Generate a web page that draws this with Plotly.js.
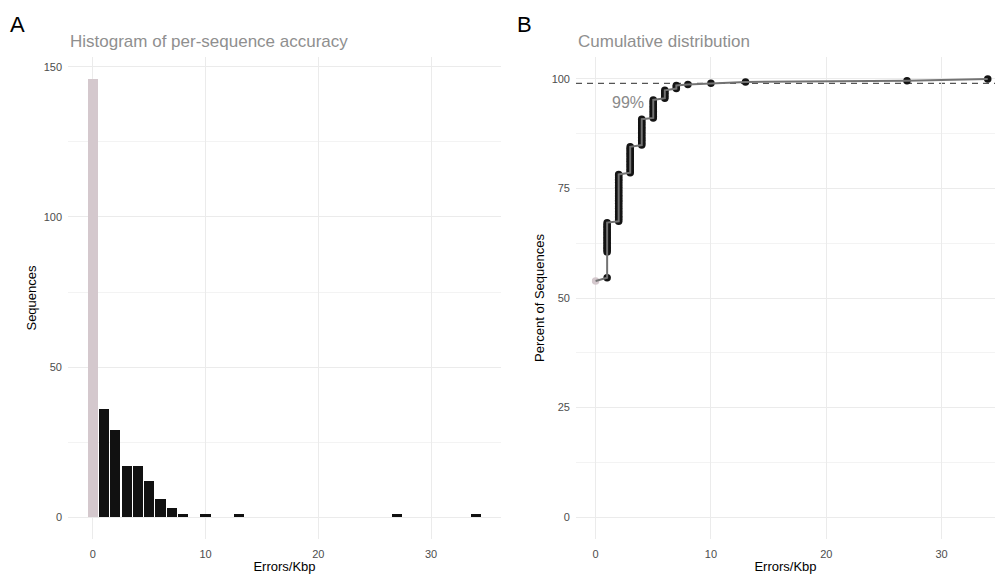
<!DOCTYPE html>
<html>
<head>
<meta charset="utf-8">
<script src="https://cdn.plot.ly/plotly-3.0.1.min.js"></script>
<style>
html,body{margin:0;padding:0;background:#fff;}
#chart{width:995px;height:574px;}
</style>
</head>
<body>
<div id="chart"></div>
<script>
// Histogram (panel A)
const histBins = [0, 1, 2, 3, 4, 5, 6, 7, 8, 10, 13, 27, 34];
const histCounts = [146, 36, 29, 17, 17, 12, 6, 3, 1, 1, 1, 1, 1];

// Cumulative distribution (panel B)
const cdfX = [0,
  1,1,1,1,1,1,1,1,1,1,1,1,1,1,1,1,1,1,1,1,
  2,2,2,2,2,2,2,2,2,2,2,2,2,2,2,2,2,2,2,2,2,2,2,2,2,2,2,2,2,2,
  3,3,3,3,3,3,3,3,3,3,3,3,3,3,3,3,3,
  4,4,4,4,4,4,4,4,4,4,4,4,4,4,4,4,4,
  5,5,5,5,5,5,5,5,5,5,5,5,
  6,6,6,6,6,6,
  7,7,7,
  8, 10, 13, 27, 34];
const cdfY = [53.9,
  54.6, 60.5, 60.9, 61.3, 61.6, 62.0, 62.4, 62.7, 63.1, 63.5, 63.8, 64.2, 64.6, 64.9, 65.3, 65.7, 66.1, 66.4, 66.8, 67.2,
  67.5, 67.9, 68.3, 68.6, 69.0, 69.4, 69.7, 70.1, 70.5, 70.8, 71.2, 71.6, 72.0, 72.3, 72.7, 73.1, 73.4, 73.8, 74.2, 74.5, 74.9, 75.3, 75.6, 76.0, 76.4, 76.8, 77.1, 77.5, 77.9, 78.2,
  78.6, 79.0, 79.3, 79.7, 80.1, 80.4, 80.8, 81.2, 81.5, 81.9, 82.3, 82.7, 83.0, 83.4, 83.8, 84.1, 84.5,
  84.9, 85.2, 85.6, 86.0, 86.3, 86.7, 87.1, 87.5, 87.8, 88.2, 88.6, 88.9, 89.3, 89.7, 90.0, 90.4, 90.8,
  91.1, 91.5, 91.9, 92.3, 92.6, 93.0, 93.4, 93.7, 94.1, 94.5, 94.8, 95.2,
  95.6, 95.9, 96.3, 96.7, 97.0, 97.4,
  97.8, 98.2, 98.5,
  98.7, 99.0, 99.3, 99.6, 100];
const refLevel = 99;
const refLabel = "99%";

const xTicks = [0, 10, 20, 30];
const leftYTicks = [0, 50, 100, 150];
const rightYTicks = [0, 25, 50, 75, 100];

const pink = '#d4c8cd';
const dark = '#111111';
const barColors = histBins.map(b => b === 0 ? pink : dark);
const ptColors = cdfX.map(v => v === 0 ? pink : '#141414');

const FONT = 'Liberation Sans, Arial, Helvetica, sans-serif';
const grid = '#ebebeb';

const traces = [
  {type: 'bar', x: histBins, y: histCounts, width: 0.9,
   marker: {color: barColors, line: {width: 0}},
   xaxis: 'x', yaxis: 'y', hoverinfo: 'x+y', showlegend: false},
  {type: 'scatter', mode: 'markers', x: cdfX, y: cdfY,
   marker: {color: ptColors, size: 7.5, line: {width: 0}},
   xaxis: 'x2', yaxis: 'y2', showlegend: false},
  {type: 'scatter', mode: 'lines', x: cdfX, y: cdfY,
   line: {color: '#737373', width: 2},
   xaxis: 'x2', yaxis: 'y2', showlegend: false, hoverinfo: 'skip'}
];

const tickFont = {family: FONT, size: 11, color: '#4d4d4d'};
const titleFont = {family: FONT, size: 13, color: '#000'};

function xax(domain, range, anchor) {
  return {domain: domain, range: range, anchor: anchor,
    tickvals: xTicks, ticktext: xTicks.map(String), ticks: '', showline: false, zeroline: false,
    showgrid: true, gridcolor: grid, gridwidth: 1, tickfont: tickFont,
    ticklabelstandoff: 7,
    title: {text: 'Errors/Kbp', font: titleFont, standoff: 3}};
}

const layout = {
  width: 995, height: 574,
  margin: {l: 68, r: 0, t: 57, b: 35},
  paper_bgcolor: '#fff', plot_bgcolor: '#fff',
  font: {family: FONT},
  bargap: 0,
  xaxis: xax([0, 0.4671], [-2.2, 36.2], 'y'),
  xaxis2: xax([0.548, 1], [-1.7, 34.63], 'y2'),
  yaxis: {domain: [0, 1], range: [-7.3, 153.3], anchor: 'x',
    tickvals: leftYTicks, ticktext: leftYTicks.map(String), ticks: '', showline: false, zeroline: false,
    showgrid: true, gridcolor: grid, gridwidth: 1, tickfont: tickFont, ticklabelstandoff: 5,
    minor: {dtick: 25, tick0: 0, showgrid: true, gridcolor: grid, gridwidth: 0.6, ticks: ''},
    title: {text: 'Sequences', font: titleFont, standoff: 4}},
  yaxis2: {domain: [0, 1], range: [-5, 105], anchor: 'x2',
    tickvals: rightYTicks, ticktext: rightYTicks.map(String), ticks: '', showline: false, zeroline: false,
    showgrid: true, gridcolor: grid, gridwidth: 1, tickfont: tickFont, ticklabelstandoff: 5,
    minor: {dtick: 12.5, tick0: 0, showgrid: true, gridcolor: grid, gridwidth: 0.6, ticks: ''},
    title: {text: 'Percent of Sequences', font: titleFont, standoff: 4}},
  shapes: [
    {type: 'line', xref: 'x2 domain', yref: 'y2', x0: 0, x1: 1, y0: refLevel, y1: refLevel,
     line: {color: '#555555', width: 1.2, dash: '6px,5px'}, layer: 'below'}
  ],
  annotations: [
    {text: 'A', xref: 'paper', yref: 'paper', x: -0.0647, y: 1.068, xanchor: 'left', yanchor: 'middle',
     showarrow: false, font: {family: FONT, size: 22, color: '#000'}},
    {text: 'B', xref: 'paper', yref: 'paper', x: 0.4822, y: 1.068, xanchor: 'left', yanchor: 'middle',
     showarrow: false, font: {family: FONT, size: 22, color: '#000'}},
    {text: 'Histogram of per-sequence accuracy', xref: 'paper', yref: 'paper', x: 0, y: 1.033,
     xanchor: 'left', yanchor: 'middle', showarrow: false, font: {family: FONT, size: 17, color: '#8f8f8f'}},
    {text: 'Cumulative distribution', xref: 'paper', yref: 'paper', x: 0.548, y: 1.033,
     xanchor: 'left', yanchor: 'middle', showarrow: false, font: {family: FONT, size: 17, color: '#8f8f8f'}},
    {text: refLabel, xref: 'x2', yref: 'y2', x: 2.8, y: 94.6, xanchor: 'center', yanchor: 'middle',
     showarrow: false, font: {family: FONT, size: 16, color: '#8a8a8a'}}
  ]
};

Plotly.newPlot('chart', traces, layout, {displayModeBar: false, staticPlot: true});
</script>
</body>
</html>
